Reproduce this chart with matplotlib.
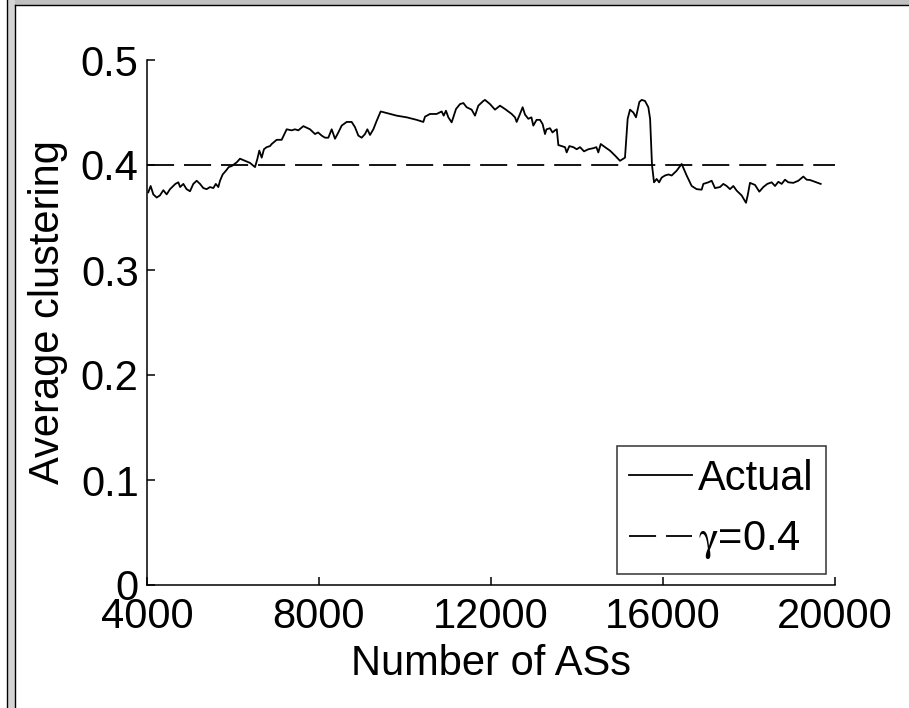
import numpy as np
import matplotlib
matplotlib.use('Agg')
import matplotlib.pyplot as plt
from matplotlib.lines import Line2D
from matplotlib.patches import Rectangle

plt.rcParams['font.family'] = ['Liberation Sans', 'DejaVu Sans']
plt.rcParams['mathtext.fontset'] = 'stix'

# values
num_as = [4030, 4085, 4147, 4225, 4300, 4380, 4457, 4535, 4612, 4660, 4729, 4770,
          4845, 4920, 5000, 5077, 5155, 5233, 5310, 5388, 5465, 5543, 5600, 5659,
          5698, 5760, 5837, 5900, 5970, 6085, 6163, 6280, 6395, 6512, 6566, 6612,
          6667, 6720, 6783, 6860, 6900, 7016, 7132, 7248, 7364, 7440, 7519, 7636,
          7791, 7907, 7980, 8062, 8140, 8217, 8295, 8372, 8450, 8527, 8643, 8760,
          8837, 8915, 8992, 9070, 9125, 9186, 9264, 9341, 9434, 9574, 9806, 10039,
          10271, 10349, 10426, 10465, 10581, 10736, 10853, 10900, 10953, 11008, 11085,
          11186, 11279, 11357, 11434, 11550, 11628, 11705, 11822, 11860, 11977, 12093,
          12209, 12326, 12403, 12481, 12558, 12597, 12674, 12736, 12791, 12868, 12940,
          12984, 13060, 13140, 13200, 13256, 13290, 13372, 13430, 13488, 13530, 13566,
          13643, 13721, 13760, 13822, 13915, 13993, 14070, 14163, 14264, 14380, 14450,
          14496, 14552, 14651, 14767, 14884, 15000, 15116, 15178, 15233, 15310, 15372,
          15450, 15504, 15581, 15659, 15700, 15744, 15791, 15853, 15910, 15969, 16047,
          16124, 16202, 16318, 16434, 16550, 16667, 16783, 16899, 16938, 17054, 17132,
          17209, 17326, 17403, 17481, 17558, 17636, 17713, 17829, 17930, 17969, 18023,
          18140, 18240, 18333, 18426, 18527, 18605, 18682, 18760, 18837, 18915, 19031,
          19147, 19264, 19341, 19419, 19535, 19667]
clustering = [0.374, 0.380, 0.372, 0.369, 0.371, 0.376, 0.372, 0.377, 0.380, 0.382, 0.3835, 0.379,
              0.382, 0.377, 0.375, 0.382, 0.385, 0.382, 0.378, 0.377, 0.379, 0.378, 0.382, 0.379,
              0.385, 0.391, 0.3946, 0.398, 0.399, 0.4025, 0.406, 0.404, 0.402, 0.398, 0.4057, 0.4137,
              0.407, 0.415, 0.417, 0.418, 0.420, 0.424, 0.424, 0.434, 0.433, 0.434, 0.433, 0.437,
              0.434, 0.4295, 0.431, 0.428, 0.426, 0.426, 0.434, 0.425, 0.431, 0.4375, 0.441, 0.441,
              0.436, 0.428, 0.426, 0.4295, 0.434, 0.4286, 0.434, 0.442, 0.451, 0.4495, 0.447, 0.4454,
              0.443, 0.442, 0.441, 0.446, 0.4486, 0.4486, 0.451, 0.447, 0.4517, 0.4454, 0.4406,
              0.4533, 0.458, 0.459, 0.455, 0.4527, 0.447, 0.4565, 0.461, 0.462, 0.458, 0.4527,
              0.4565, 0.4533, 0.451, 0.4486, 0.4454, 0.441, 0.4486, 0.455, 0.448, 0.444, 0.4454,
              0.4375, 0.443, 0.443, 0.439, 0.4295, 0.434, 0.435, 0.431, 0.433, 0.434, 0.419,
              0.418, 0.417, 0.412, 0.418, 0.417, 0.415, 0.417, 0.413, 0.415, 0.416, 0.417,
              0.412, 0.420, 0.417, 0.4137, 0.409, 0.404, 0.407, 0.444, 0.4527, 0.450, 0.4454,
              0.460, 0.462, 0.461, 0.455, 0.444, 0.400, 0.3835, 0.3867, 0.3835, 0.388, 0.390,
              0.391, 0.390, 0.3946, 0.401, 0.390, 0.380, 0.377, 0.3765, 0.382, 0.3835, 0.385,
              0.378, 0.379, 0.382, 0.380, 0.377, 0.380, 0.3756, 0.371, 0.364, 0.371, 0.383,
              0.381, 0.3746, 0.379, 0.382, 0.3835, 0.380, 0.384, 0.382, 0.386, 0.3835, 0.383,
              0.385, 0.389, 0.386, 0.3857, 0.384, 0.382]
gamma = 0.4
x_ticks = [4000, 8000, 12000, 16000, 20000]
y_ticks = [0, 0.1, 0.2, 0.3, 0.4, 0.5]
y_ticklabels = ['0', '0.1', '0.2', '0.3', '0.4', '0.5']

W, H = 909, 708
fig = plt.figure(figsize=(W / 100, H / 100), dpi=100)
ax = fig.add_axes([147 / W, 1 - 585 / H, 688 / W, 525 / H])

ax.plot(num_as, clustering, color='black', lw=1.3, label='Actual')
ax.plot([4000, 20000], [gamma, gamma], color='black', lw=1.3,
        dashes=(15, 5.5), label=r'$\mathrm{\gamma}$=0.4')

ax.set_xlim(4000, 20000)
ax.set_ylim(0, 0.5)
ax.set_xticks(x_ticks)
ax.set_yticks(y_ticks)
ax.set_yticklabels(y_ticklabels)
ax.spines['top'].set_visible(False)
ax.spines['right'].set_visible(False)
for s in ('left', 'bottom'):
    ax.spines[s].set_linewidth(1.1)
ax.tick_params(direction='in', length=6, width=1.1, labelsize=30)
ax.tick_params(axis='x', pad=9)
ax.tick_params(axis='y', pad=6)

ax.set_xlabel('Number of ASs', fontsize=30)
ax.xaxis.set_label_coords(0.5, -(644 - 585) / 525)
ax.set_ylabel('Average clustering', fontsize=30)
ax.yaxis.set_label_coords(-(147 - 68) / 688, (585 - 312) / 525)

leg = ax.legend(loc='lower right', bbox_to_anchor=(0.987, 0.021), borderaxespad=0,
                fontsize=30, frameon=True, fancybox=False, handlelength=1.5,
                handletextpad=0.15, borderpad=0.3, labelspacing=0.5)
leg.get_frame().set_edgecolor('black')
leg.get_frame().set_linewidth(1.1)

# window frame from the screenshot
fig.patches.append(Rectangle((7 / W, 0), 8 / W, 1, transform=fig.transFigure,
                             facecolor='#d4d4d4', edgecolor='none', zorder=-1))
fig.patches.append(Rectangle((15 / W, 1 - 5 / H), 1, 5 / H, transform=fig.transFigure,
                             facecolor='#c0c0c0', edgecolor='none', zorder=-1))
fig.lines.append(Line2D([7 / W, 7 / W], [0, 1], transform=fig.transFigure, color='black', lw=1))
fig.lines.append(Line2D([15 / W, 15 / W], [0, 1 - 5 / H], transform=fig.transFigure, color='black', lw=1))
fig.lines.append(Line2D([15 / W, 1], [1 - 5 / H, 1 - 5 / H], transform=fig.transFigure, color='black', lw=1))

fig.savefig('out.png', dpi=100)
